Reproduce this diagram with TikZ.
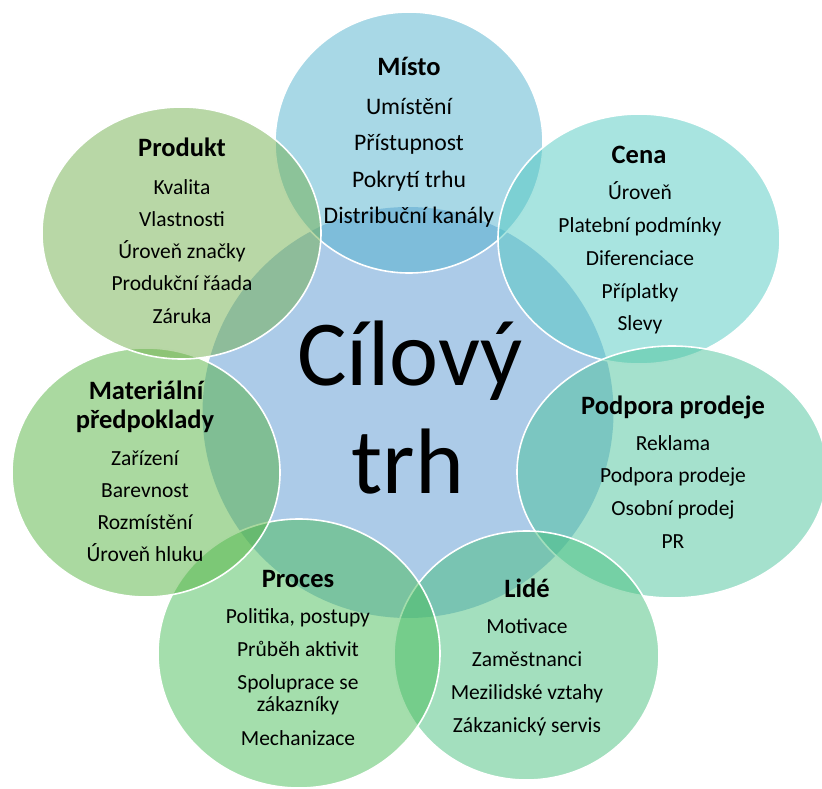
\documentclass[tikz,border=0pt]{standalone}
\usepackage{fontspec}
\setmainfont{Carlito}

% fill colours (the petals are drawn at half opacity)
\definecolor{hubfill}{RGB}{172,203,232}
\definecolor{cmisto}{RGB}{81,177,205}
\definecolor{ccena}{RGB}{81,201,193}
\definecolor{cpodpora}{RGB}{75,195,155}
\definecolor{clide}{RGB}{71,191,125}
\definecolor{cproces}{RGB}{73,189,89}
\definecolor{cmaterial}{RGB}{85,179,65}
\definecolor{cprodukt}{RGB}{113,175,77}

\tikzset{
  petal/.style={draw=white, line width=1.6pt, fill opacity=0.5},
  head/.style={font=\fontsize{26.5}{29}\selectfont\bfseries, anchor=base, inner sep=0pt},
  entry/.style={font=\fontsize{21.5}{22}\selectfont, anchor=base, inner sep=0pt},
  bigentry/.style={entry, font=\fontsize{23.7}{24}\selectfont},
  hub/.style={font=\fontsize{93}{108}\selectfont, anchor=base, inner sep=0pt},
}

% a column of centred entries: style, name, x, first baseline, step, list
\newcommand\entrycolumn[6]{%
  \foreach \txt [count=\k from 0] in {#6}{%
    \node[#1] (#2-\k) at (#3, #4+\k*#5) {\txt};
  }}

\begin{document}
\begin{tikzpicture}[x=1pt, y=-1pt]
\useasboundingbox (0,0) rectangle (822,789);

% central circle
\fill[hubfill] (408,412.5) circle [radius=205.5pt];

% outer petals, clockwise from the top
\draw[petal, fill=cmisto]    (409,142.5) ellipse [x radius=134pt, y radius=130.5pt];
\draw[petal, fill=ccena]     (639,239)   ellipse [x radius=141pt, y radius=125pt];
\draw[petal, fill=cpodpora]  (672,472)   ellipse [x radius=155pt, y radius=126pt];
\draw[petal, fill=clide]     (526.5,655.5) ellipse [x radius=132.5pt, y radius=124.5pt];
\draw[petal, fill=cproces]   (299,653.5) ellipse [x radius=141pt, y radius=134.5pt];
\draw[petal, fill=cmaterial] (146,472.5) ellipse [x radius=134pt, y radius=124.5pt];
\draw[petal, fill=cprodukt]  (181.5,233) ellipse [x radius=139.5pt, y radius=126pt];

% centre label
\node[hub] (hub1) at (410,385) {Cílový};
\node[hub] (hub2) at (408,493) {trh};

% Místo
\node[head] (misto) at (409,76) {Místo};
\entrycolumn{bigentry}{misto}{409}{115}{36}{Umístění, Přístupnost, Pokrytí trhu, Distribuční kanály}

% Cena
\node[head] (cena) at (639,164) {Cena};
\entrycolumn{entry}{cena}{640}{200}{32.7}{Úroveň, Platební podmínky, Diferenciace, Příplatky, Slevy}

% Podpora prodeje
\node[head] (podpora) at (673,414) {Podpora prodeje};
\entrycolumn{entry}{podpora}{673}{450}{32.7}{Reklama, Podpora prodeje, Osobní prodej, PR}

% Lidé
\node[head] (lide) at (527,597) {Lidé};
\entrycolumn{entry}{lide}{527}{633}{33}{Motivace, Zaměstnanci, Mezilidské vztahy, Zákzanický servis}

% Proces
\node[head] (proces) at (298,587) {Proces};
\node[entry] (proces-0) at (298,623) {Politika, postupy};
\node[entry] (proces-1) at (298,656) {Průběh aktivit};
\node[entry] (proces-2) at (298,689) {Spoluprace se};
\node[entry] (proces-3) at (298,711.5) {zákazníky};
\node[entry] (proces-4) at (298,745) {Mechanizace};

% Materiální předpoklady
\node[head] (material-a) at (146,399) {Materiální};
\node[head] (material-b) at (145,428) {předpoklady};
\entrycolumn{entry}{material}{145}{465}{32.3}{Zařízení, Barevnost, Rozmístění, Úroveň hluku}

% Produkt
\node[head] (produkt) at (182,157) {Produkt};
\entrycolumn{entry}{produkt}{182}{194}{32.3}{Kvalita, Vlastnosti, Úroveň značky, Produkční řáada, Záruka}

\end{tikzpicture}
\end{document}
